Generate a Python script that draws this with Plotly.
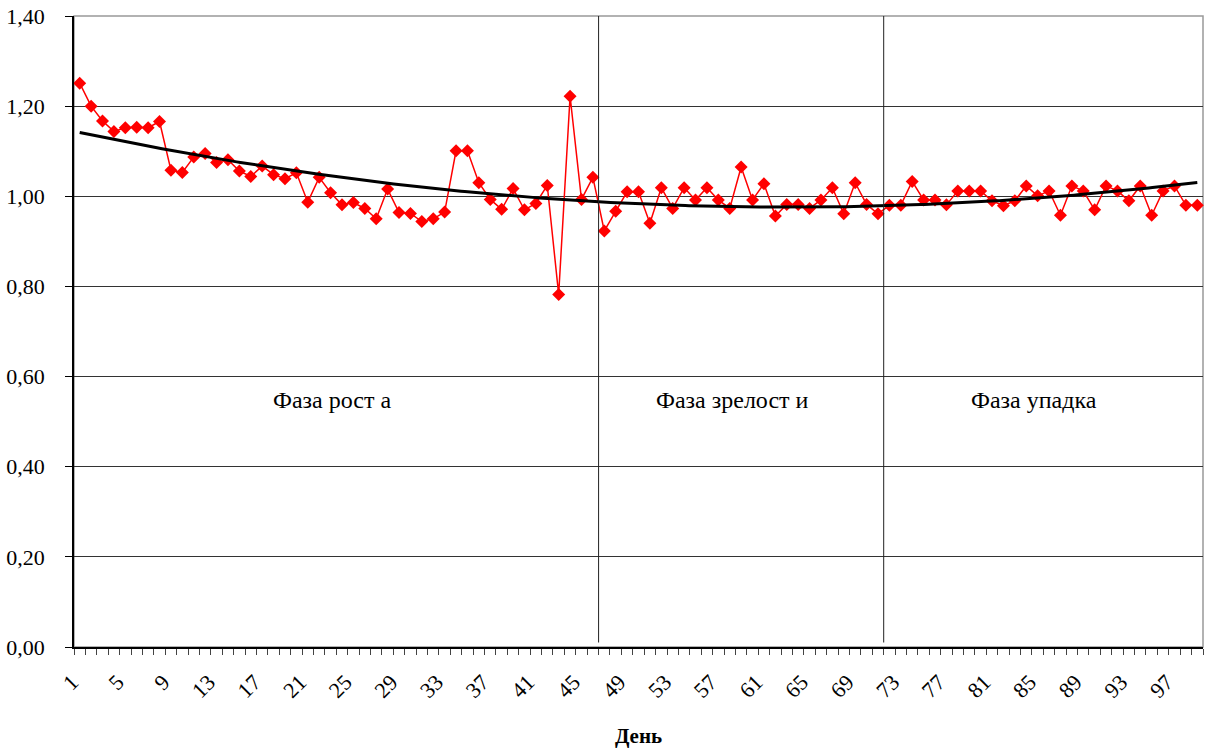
import numpy as np
import plotly.graph_objects as go

days = list(range(1, 100))
values = [
    1.251, 1.200, 1.167, 1.144, 1.152, 1.153, 1.152, 1.166, 1.058, 1.053,
    1.087, 1.095, 1.075, 1.081, 1.056, 1.044, 1.067, 1.048, 1.039, 1.052,
    0.987, 1.042, 1.008, 0.981, 0.986, 0.973, 0.950, 1.016, 0.964, 0.962,
    0.944, 0.950, 0.965, 1.101, 1.101, 1.030, 0.993, 0.971, 1.017, 0.970,
    0.984, 1.024, 0.782, 1.222, 0.993, 1.042, 0.923, 0.967, 1.010, 1.010,
    0.940, 1.019, 0.973, 1.019, 0.992, 1.019, 0.992, 0.973, 1.065, 0.992,
    1.028, 0.956, 0.982, 0.982, 0.973, 0.992, 1.019, 0.961, 1.030, 0.982,
    0.961, 0.980, 0.980, 1.033, 0.992, 0.992, 0.981, 1.012, 1.012, 1.012,
    0.990, 0.979, 0.990, 1.023, 1.001, 1.012, 0.958, 1.023, 1.012, 0.970,
    1.023, 1.012, 0.990, 1.023, 0.958, 1.012, 1.023, 0.980, 0.980,
]
tick_days = list(range(1, 100, 4))
y_ticks = [0.0, 0.2, 0.4, 0.6, 0.8, 1.0, 1.2, 1.4]
phase_bounds = [46.5, 71.5]
phase_labels = ["Фаза рост а", "Фаза зрелост и", "Фаза упадка"]
phase_label_x = [23.15, 58.2, 84.7]

# Polynomial trendline (order 2) fitted to the series
coef = np.polyfit(days, values, 2)
trend_x = np.linspace(1, 99, 300)
trend_y = np.polyval(coef, trend_x)

FONT = "Liberation Serif"

fig = go.Figure()
fig.add_trace(go.Scatter(
    x=days, y=values, mode="lines+markers",
    line=dict(color="#ff0000", width=1.5),
    marker=dict(symbol="diamond", size=10, color="#ff0000"),
    showlegend=False, cliponaxis=False,
))
fig.add_trace(go.Scatter(
    x=trend_x, y=trend_y, mode="lines",
    line=dict(color="#000000", width=3),
    showlegend=False,
))

for xb in phase_bounds:
    fig.add_shape(type="line", x0=xb, x1=xb, y0=0.01, y1=1.4,
                  xref="x", yref="y", line=dict(color="#222222", width=1))

fig.add_shape(type="rect", x0=0, x1=1, y0=0, y1=1, xref="paper", yref="paper",
              line=dict(color="#999999", width=1.5), layer="below")

for txt, xp in zip(phase_labels, phase_label_x):
    fig.add_annotation(x=xp, y=0.549, text=txt, showarrow=False,
                       font=dict(family=FONT, size=24, color="#000000"))

fig.update_layout(
    width=1205, height=752,
    margin=dict(l=74, r=2, t=16, b=105),
    paper_bgcolor="white", plot_bgcolor="white",
    separators=", ",
    font=dict(family=FONT, color="#000000"),
)
fig.update_xaxes(
    range=[0.5, 99.5], automargin=False,
    tickmode="array", tickvals=tick_days,
    ticktext=[str(d) + "\u00a0\u00a0" for d in tick_days],
    tickangle=-45, ticks="", tickfont=dict(family=FONT, size=22),
    ticklabelstandoff=4, ticklabeloverflow="allow",
    showgrid=False, zeroline=False,
    showline=True, linecolor="#000000", linewidth=1.5,
    minor=dict(tickmode="linear", tick0=0.5, dtick=1, ticks="outside",
               ticklen=6, tickcolor="#444444", tickwidth=1, showgrid=False),
    title=dict(text="<b>День</b>", font=dict(family=FONT, size=21), standoff=27),
)
fig.update_yaxes(
    range=[0, 1.4], automargin=False,
    tickmode="array", tickvals=y_ticks, tickformat=".2f",
    ticks="outside", ticklen=7, tickcolor="#000000",
    tickfont=dict(family=FONT, size=22),
    ticklabelstandoff=16, ticklabeloverflow="allow",
    showgrid=True, gridcolor="#333333", gridwidth=1,
    zeroline=False,
    showline=True, linecolor="#000000", linewidth=1.5,
)

fig.write_html("out.html", config={"displayModeBar": False},
               post_script="document.body.style.margin='0';")
